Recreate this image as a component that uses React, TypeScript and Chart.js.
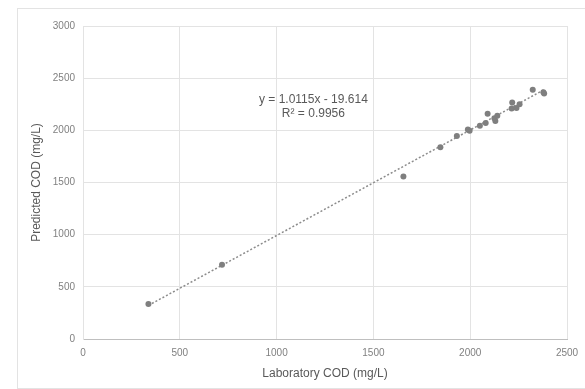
import React, { useEffect, useRef } from "react";
import { Chart, registerables } from "chart.js";

Chart.register(...registerables);

const labCOD = [338, 718, 1655, 1846, 1931, 1988, 1997, 2050, 2080, 2090, 2125, 2130, 2140, 2214, 2217, 2239, 2255, 2323, 2382, 2378];
const predCOD = [335, 712, 1558, 1838, 1945, 2009, 1995, 2044, 2071, 2158, 2116, 2089, 2139, 2209, 2266, 2215, 2251, 2390, 2352, 2365];
const trendX = [338, 2382];
const trendY = [322, 2390];
const equationLines = ["y = 1.0115x - 19.614", "R² = 0.9956"];
const equationAt = { x: 1190, y: 2290 };
const xTitle = "Laboratory COD (mg/L)";
const yTitle = "Predicted COD (mg/L)";

const FONT = "'Liberation Sans', Arial, sans-serif";

const equationPlugin = {
  id: "equation",
  afterDatasetsDraw(chart: any) {
    const { ctx, scales } = chart;
    const px = scales.x.getPixelForValue(equationAt.x);
    const py = scales.y.getPixelForValue(equationAt.y);
    ctx.save();
    ctx.font = `12px ${FONT}`;
    ctx.fillStyle = "#595959";
    ctx.textAlign = "center";
    ctx.textBaseline = "middle";
    equationLines.forEach((t, i) => ctx.fillText(t, px, py + i * 14));
    ctx.restore();
  },
};

export default function App() {
  const ref = useRef<HTMLCanvasElement>(null);
  useEffect(() => {
    document.documentElement.style.overflow = "hidden";
    document.body.style.overflow = "hidden";
    const chart = new Chart(ref.current as HTMLCanvasElement, {
      type: "scatter",
      data: {
        datasets: [
          {
            label: "points",
            data: labCOD.map((x, i) => ({ x, y: predCOD[i] })),
            backgroundColor: "#7f7f7f",
            borderColor: "#7f7f7f",
            pointRadius: 3,
            pointBorderWidth: 0,
          },
          {
            type: "line",
            label: "trend",
            data: trendX.map((x, i) => ({ x, y: trendY[i] })),
            borderColor: "#8c8c8c",
            borderWidth: 1.5,
            borderDash: [2, 2],
            pointRadius: 0,
            fill: false,
          } as any,
        ],
      },
      options: {
        responsive: false,
        animation: false,
        layout: { padding: { top: 17, right: 21, left: 0, bottom: 0 } },
        plugins: { legend: { display: false }, tooltip: { enabled: false } },
        scales: {
          x: {
            type: "linear",
            min: 0,
            max: 2500,
            ticks: { stepSize: 500, color: "#808080", font: { family: FONT, size: 10 }, padding: 8, callback: (v: any) => String(v) },
            grid: { color: "#e3e3e3", drawTicks: false },
            border: { color: "#bfbfbf" },
            title: { display: true, text: xTitle, color: "#595959", font: { family: FONT, size: 12 }, padding: { top: 0, bottom: 7 } },
            afterFit: (s: any) => { s.height = 49; },
          },
          y: {
            type: "linear",
            min: 0,
            max: 3000,
            ticks: { stepSize: 500, color: "#808080", font: { family: FONT, size: 10 }, padding: 8, callback: (v: any) => String(v) },
            grid: { color: "#e3e3e3", drawTicks: false },
            border: { color: "#e3e3e3" },
            title: { display: true, text: yTitle, color: "#595959", font: { family: FONT, size: 12 }, padding: { top: 11, bottom: 0 } },
            afterFit: (s: any) => { s.width = 65; },
          },
        },
      },
      plugins: [equationPlugin],
    });
    return () => chart.destroy();
  }, []);
  return (
    <div style={{ position: "absolute", left: 17, top: 8, width: 590, height: 381, boxSizing: "border-box", border: "1px solid #e3e3e3" }}>
      <canvas ref={ref} width={570} height={379} style={{ display: "block" }} />
    </div>
  );
}
